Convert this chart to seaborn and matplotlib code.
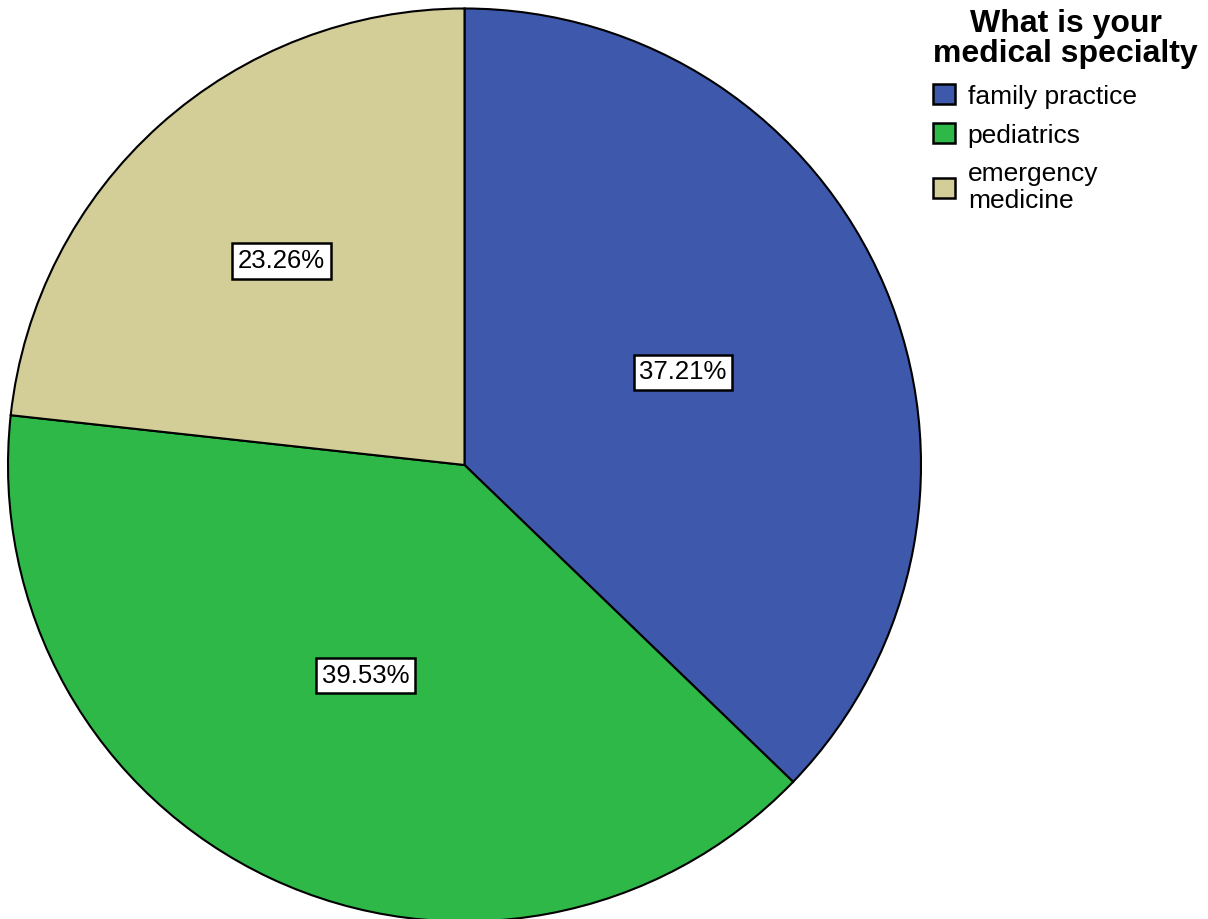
import matplotlib
matplotlib.use("Agg")
import matplotlib.pyplot as plt
import seaborn as sns
import numpy as np
from matplotlib.patches import Patch

sns.set_theme(style="white")
plt.rcParams['font.family'] = ['Liberation Sans', 'DejaVu Sans']
plt.rcParams['text.color'] = 'black'

specialties = ["family practice", "pediatrics", "emergency\nmedicine"]
percentages = [37.21, 39.53, 23.26]
colors = ["#3E58AC", "#2EB848", "#D3CE97"]
legend_title = "What is your\nmedical specialty"

# radial placement of each percentage label (fraction of radius)
label_radius = [0.52, 0.51, 0.60]

fig = plt.figure(figsize=(12.08, 9.19), dpi=100)
ax = fig.add_axes([8 / 1208, -2.5 / 919, 913 / 1208, 913 / 919])

wedges, _ = ax.pie(
    percentages,
    colors=colors,
    startangle=90,
    counterclock=False,
    radius=1.0,
    wedgeprops=dict(edgecolor="black", linewidth=1.5),
)
ax.set_xlim(-1, 1)
ax.set_ylim(-1, 1)
ax.set_aspect("equal")
ax.axis("off")

for w, pct, r in zip(wedges, percentages, label_radius):
    mid = np.deg2rad((w.theta1 + w.theta2) / 2)
    ax.text(
        r * np.cos(mid), r * np.sin(mid), f"{pct:.2f}%",
        ha="center", va="center", fontsize=18.5, color="black",
        bbox=dict(boxstyle="square,pad=0.22", facecolor="white",
                  edgecolor="black", linewidth=1.8),
    )

handles = [Patch(facecolor=c, edgecolor="black", linewidth=1.8) for c in colors]
leg = fig.legend(
    handles, specialties,
    loc="upper left", bbox_to_anchor=(915 / 1208, 1.0 + 9 / 919),
    frameon=False, fontsize=19,
    title=legend_title,
    title_fontproperties=dict(weight="bold", size=23),
    handlelength=0.8, handleheight=0.8, handletextpad=0.5,
    labelspacing=0.56, borderaxespad=0.3,
)
# entries sit flush left under the centred title
leg._legend_box.align = "left"
leg.get_title().set_multialignment("center")
leg.get_title().set_linespacing(1.0)
for t in leg.get_texts():
    t.set_color("black")
    t.set_linespacing(1.15)

fig.savefig("out.png", dpi=100, facecolor="white")
